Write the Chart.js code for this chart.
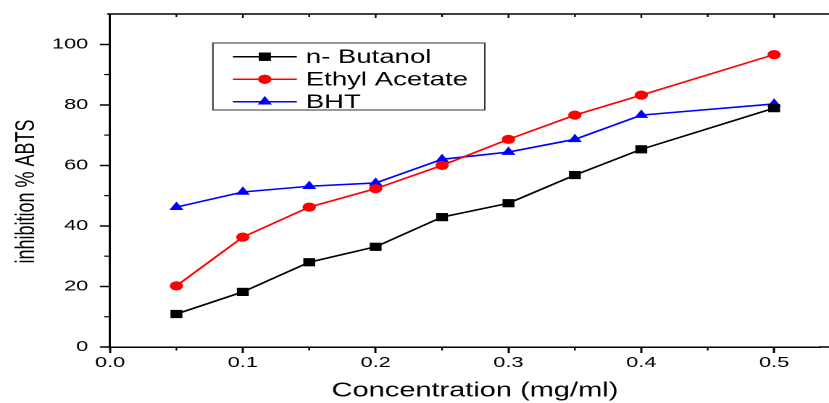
<!DOCTYPE html>
<html>
<head>
<meta charset="utf-8">
<script src="https://cdn.jsdelivr.net/npm/chart.js@4/dist/chart.umd.min.js"></script>
<style>
  html, body { margin:0; padding:0; background:#fff; }
  #outer { width:829px; height:403px; overflow:hidden; position:relative; }
  #inner { width:572px; height:403px; transform:scaleX(1.4493); transform-origin:0 0; }
</style>
</head>
<body>
<div id="outer"><div id="inner"><canvas id="c" width="572" height="403" style="width:572px;height:403px"></canvas></div></div>
<script>
const concentrations = [0.05, 0.1, 0.15, 0.2, 0.25, 0.3, 0.35, 0.4, 0.5];
const butanol = [10.9, 18.2, 28.0, 33.1, 42.9, 47.5, 56.8, 65.3, 78.9];
const ethylAcetate = [20.2, 36.3, 46.2, 52.3, 60.0, 68.6, 76.6, 83.2, 96.6];
const bht = [46.2, 51.2, 53.1, 54.2, 62.0, 64.4, 68.6, 76.6, 80.3];
const seriesNames = ['n- Butanol', 'Ethyl Acetate', 'BHT'];
const xTitle = 'Concentration (mg/ml)';
const yTitle = 'inhibition % ABTS';

const FONT = "'Liberation Sans', Arial, Helvetica, sans-serif";

function pts(ys) { return concentrations.map((x, i) => ({x: x, y: ys[i]})); }

const styles = [
  {color:'#000000', style:'rect', r:5.8},
  {color:'#ff0000', style:'circle', r:4.6},
  {color:'#0000ff', style:'triangle', r:5.6}
];
const seriesData = [butanol, ethylAcetate, bht];

const datasets = seriesData.map((d, i) => ({
  label: seriesNames[i],
  data: pts(d),
  borderColor: styles[i].color,
  backgroundColor: styles[i].color,
  pointStyle: styles[i].style,
  pointRadius: styles[i].r,
  pointHoverRadius: styles[i].r,
  pointBorderWidth: 0,
  borderWidth: 1.6,
  tension: 0,
  fill: false,
  clip: false
}));

const framePlugin = {
  id: 'frame',
  afterDraw(chart) {
    const ctx = chart.ctx;
    const a = chart.chartArea;
    const xs = chart.scales.x, ys = chart.scales.y;
    ctx.save();
    ctx.strokeStyle = '#000';
    ctx.lineWidth = 1.5;
    ctx.beginPath();
    ctx.moveTo(a.left - 2, a.top);
    ctx.lineTo(chart.width, a.top);
    ctx.moveTo(a.right - 1, a.bottom);
    ctx.lineTo(chart.width, a.bottom);
    ctx.stroke();
    ctx.lineWidth = 1.2;
    for (let k = 0; k <= 11; k++) {
      const v = k * 0.05;
      const px = xs.getPixelForValue(v);
      if (px > chart.width) continue;
      const major = (k % 2 === 0);
      ctx.beginPath();
      if (!major) { ctx.moveTo(px, a.bottom); ctx.lineTo(px, a.bottom + 3.5); }
      ctx.moveTo(px, a.top); ctx.lineTo(px, a.top + (major ? 4 : 3));
      ctx.stroke();
    }
    for (let v = 10; v <= 100; v += 20) {
      const py = ys.getPixelForValue(v);
      ctx.beginPath();
      ctx.moveTo(a.left, py); ctx.lineTo(a.left - 4, py);
      ctx.stroke();
    }
    // axis titles
    ctx.fillStyle = '#000';
    ctx.textAlign = 'center';
    ctx.textBaseline = 'middle';
    ctx.font = '20px ' + FONT;
    ctx.fillText(xTitle, 327.7, 391);
    ctx.save();
    ctx.translate(18.6, 191.5);
    ctx.rotate(-Math.PI / 2);
    ctx.font = '18px ' + FONT;
    ctx.fillText(yTitle, 0, 0);
    ctx.restore();
    // legend
    const bx = 146.9, by = 43, bw = 187.6, bh = 67;
    ctx.lineWidth = 1;
    ctx.strokeStyle = '#333';
    ctx.strokeRect(bx, by, bw, bh);
    const rows = [56.7, 79.3, 101.7];
    ctx.font = '19px ' + FONT;
    ctx.textBaseline = 'middle';
    ctx.textAlign = 'left';
    chart.data.datasets.forEach((ds, i) => {
      const y = rows[i];
      ctx.strokeStyle = ds.borderColor;
      ctx.lineWidth = 1.5;
      ctx.beginPath();
      ctx.moveTo(160.7, y); ctx.lineTo(204.8, y);
      ctx.stroke();
      ctx.fillStyle = ds.backgroundColor;
      Chart.helpers.drawPoint(ctx, {pointStyle: ds.pointStyle, radius: ds.pointRadius, rotation: 0, borderWidth: 0}, 182.7, y);
      ctx.fill();
      ctx.fillStyle = '#000';
      ctx.fillText(ds.label, 211, y + 1);
    });
    ctx.restore();
  }
};

new Chart(document.getElementById('c'), {
  type: 'line',
  data: { datasets },
  plugins: [framePlugin],
  options: {
    responsive: false,
    maintainAspectRatio: false,
    animation: false,
    devicePixelRatio: 2,
    layout: { padding: { top: 14, left: 0, right: 0, bottom: 0 } },
    plugins: { legend: { display: false }, tooltip: { enabled: false } },
    scales: {
      x: {
        type: 'linear',
        min: 0, max: 0.535,
        afterFit(s) { s.height = 56; },
        border: { display: true, color: '#000', width: 1.5 },
        grid: { drawOnChartArea: false, drawTicks: true, tickLength: 6, tickWidth: 1.5, tickColor: '#000' },
        ticks: {
          stepSize: 0.1, includeBounds: false, autoSkip: false, maxRotation: 0,
          padding: 1, color: '#000', font: { family: FONT, size: 15 },
          callback: v => Number(v).toFixed(1)
        },
        title: { display: false }
      },
      y: {
        min: 0, max: 110,
        afterFit(s) { s.width = 75.9; },
        border: { display: true, color: '#000', width: 1.5 },
        grid: { drawOnChartArea: false, drawTicks: true, tickLength: 7, tickWidth: 1.5, tickColor: '#000' },
        ticks: {
          stepSize: 20, includeBounds: false, padding: 8, color: '#000',
          font: { family: FONT, size: 15, lineHeight: 0.6 },
          callback: v => String(Math.round(v))
        },
        title: { display: false }
      }
    }
  }
});
</script>
</body>
</html>
